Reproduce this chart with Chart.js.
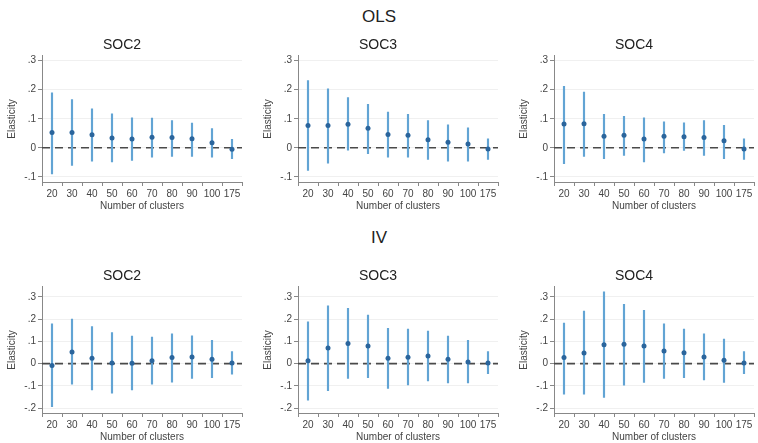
<!DOCTYPE html>
<html>
<head>
<meta charset="utf-8">
<script src="https://cdn.jsdelivr.net/npm/chart.js@4"></script>
<style>
  body { margin: 0; background: #fff; width: 758px; height: 443px; position: relative; overflow: hidden;
         font-family: "Liberation Sans", Arial, sans-serif; }
  .hd { position: absolute; left: 0; width: 758px; text-align: center; font-size: 17px; color: #222; }
  .pn { position: absolute; width: 246px; height: 176px; }
</style>
</head>
<body>
<div class="hd" style="top:7px">OLS</div>
<div class="hd" style="top:228px">IV</div>

<div class="pn" style="left:0;top:36px"><canvas id="ols2"></canvas></div>
<div class="pn" style="left:256px;top:36px"><canvas id="ols3"></canvas></div>
<div class="pn" style="left:512px;top:36px"><canvas id="ols4"></canvas></div>
<div class="pn" style="left:0;top:267px"><canvas id="iv2"></canvas></div>
<div class="pn" style="left:256px;top:267px"><canvas id="iv3"></canvas></div>
<div class="pn" style="left:512px;top:267px"><canvas id="iv4"></canvas></div>

<script>
const clusters = ['20', '30', '40', '50', '60', '70', '80', '90', '100', '175'];

// OLS estimates with 95% CI bounds
const olsSoc2Est = [0.053, 0.053, 0.045, 0.034, 0.030, 0.036, 0.035, 0.031, 0.017, -0.005];
const olsSoc2Lo  = [-0.090, -0.061, -0.046, -0.049, -0.044, -0.032, -0.030, -0.030, -0.032, -0.038];
const olsSoc2Hi  = [0.189, 0.166, 0.134, 0.117, 0.103, 0.102, 0.094, 0.085, 0.066, 0.029];

const olsSoc3Est = [0.077, 0.077, 0.081, 0.067, 0.046, 0.043, 0.028, 0.019, 0.013, -0.004];
const olsSoc3Lo  = [-0.078, -0.053, -0.008, -0.020, -0.032, -0.032, -0.040, -0.046, -0.046, -0.040];
const olsSoc3Hi  = [0.232, 0.203, 0.173, 0.150, 0.123, 0.115, 0.094, 0.079, 0.069, 0.031];

const olsSoc4Est = [0.082, 0.083, 0.040, 0.043, 0.030, 0.040, 0.038, 0.035, 0.024, -0.004];
const olsSoc4Lo  = [-0.055, -0.030, -0.038, -0.026, -0.049, -0.018, -0.009, -0.026, -0.038, -0.040];
const olsSoc4Hi  = [0.212, 0.192, 0.115, 0.108, 0.103, 0.089, 0.086, 0.094, 0.077, 0.031];

// IV estimates with 95% CI bounds
const ivSoc2Est = [-0.009, 0.052, 0.024, 0.003, 0.001, 0.013, 0.027, 0.030, 0.019, 0.003];
const ivSoc2Lo  = [-0.194, -0.093, -0.118, -0.133, -0.118, -0.093, -0.084, -0.067, -0.063, -0.048];
const ivSoc2Hi  = [0.179, 0.200, 0.166, 0.139, 0.124, 0.119, 0.134, 0.125, 0.104, 0.054];

const ivSoc3Est = [0.013, 0.070, 0.090, 0.079, 0.024, 0.028, 0.034, 0.019, 0.007, 0.003];
const ivSoc3Lo  = [-0.164, -0.122, -0.067, -0.063, -0.112, -0.096, -0.078, -0.087, -0.087, -0.045];
const ivSoc3Hi  = [0.188, 0.260, 0.248, 0.218, 0.158, 0.155, 0.146, 0.124, 0.104, 0.054];

const ivSoc4Est = [0.027, 0.048, 0.085, 0.087, 0.079, 0.057, 0.049, 0.030, 0.015, 0.003];
const ivSoc4Lo  = [-0.137, -0.137, -0.152, -0.097, -0.085, -0.067, -0.063, -0.073, -0.085, -0.045];
const ivSoc4Hi  = [0.182, 0.236, 0.322, 0.266, 0.239, 0.179, 0.155, 0.134, 0.110, 0.054];

const olsTicks = [-0.1, 0, 0.1, 0.2, 0.3];
const ivTicks  = [-0.2, -0.1, 0, 0.1, 0.2, 0.3];

// dashed reference line at zero across the whole plot
const zeroLine = {
  id: 'zeroLine',
  beforeDatasetsDraw(chart) {
    const { ctx, chartArea, scales } = chart;
    const y = scales.y.getPixelForValue(0);
    ctx.save();
    ctx.strokeStyle = '#4a4a4a';
    ctx.lineWidth = 1.6;
    ctx.setLineDash([8, 5]);
    ctx.beginPath();
    ctx.moveTo(chartArea.left, y);
    ctx.lineTo(chartArea.right, y);
    ctx.stroke();
    ctx.restore();
  }
};

function fmtTick(v) {
  if (Math.abs(v) < 1e-9) return '0';
  return (v < 0 ? '-' : '') + Math.abs(v).toFixed(1).replace(/^0/, '');
}

function makePanel(id, title, est, lo, hi, yMin, yMax, yTicks) {
  new Chart(document.getElementById(id), {
    data: {
      labels: clusters,
      datasets: [{
        type: 'line',
        data: est,
        showLine: false,
        pointRadius: 2.5,
        pointBorderWidth: 0,
        pointBackgroundColor: '#2b659c',
        order: 0
      }, {
        type: 'bar',
        data: lo.map((v, i) => [v, hi[i]]),
        backgroundColor: '#62a4d4',
        barThickness: 1.5,
        grouped: false,
        order: 1
      }]
    },
    options: {
      responsive: true,
      maintainAspectRatio: false,
      animation: false,
      devicePixelRatio: 1,
      layout: { padding: { left: 0, right: 2, top: 0, bottom: 0 } },
      plugins: {
        legend: { display: false },
        tooltip: { enabled: false },
        title: {
          display: true, text: title, color: '#222',
          font: { family: 'Liberation Sans', size: 14, weight: 'normal' },
          padding: { top: 1, bottom: 2 }
        }
      },
      scales: {
        x: {
          type: 'category',
          offset: true,
          grid: { drawOnChartArea: false, tickLength: 4, tickColor: '#888' },
          border: { color: '#888' },
          ticks: { color: '#444', font: { family: 'Liberation Sans', size: 10 }, maxRotation: 0, autoSkip: false, padding: 2 },
          title: { display: true, text: 'Number of clusters', color: '#444',
                   font: { family: 'Liberation Sans', size: 10 }, padding: { top: 0, bottom: 0 } },
          afterFit(scale) { scale.height = 30; }
        },
        y: {
          min: yMin, max: yMax,
          afterBuildTicks(scale) { scale.ticks = yTicks.map(v => ({ value: v })); },
          grid: { color: '#f0f0f0', tickLength: 4, tickColor: '#888' },
          border: { color: '#888' },
          ticks: { color: '#444', font: { family: 'Liberation Sans', size: 10 }, padding: 2, callback: fmtTick },
          title: { display: true, text: 'Elasticity', color: '#444',
                   font: { family: 'Liberation Sans', size: 10 }, padding: { top: 6, bottom: 0 } },
          afterFit(scale) { scale.width = 42; }
        }
      }
    },
    plugins: [zeroLine]
  });
}

makePanel('ols2', 'SOC2', olsSoc2Est, olsSoc2Lo, olsSoc2Hi, -0.118, 0.317, olsTicks);
makePanel('ols3', 'SOC3', olsSoc3Est, olsSoc3Lo, olsSoc3Hi, -0.118, 0.317, olsTicks);
makePanel('ols4', 'SOC4', olsSoc4Est, olsSoc4Lo, olsSoc4Hi, -0.118, 0.317, olsTicks);
makePanel('iv2', 'SOC2', ivSoc2Est, ivSoc2Lo, ivSoc2Hi, -0.222, 0.345, ivTicks);
makePanel('iv3', 'SOC3', ivSoc3Est, ivSoc3Lo, ivSoc3Hi, -0.222, 0.345, ivTicks);
makePanel('iv4', 'SOC4', ivSoc4Est, ivSoc4Lo, ivSoc4Hi, -0.222, 0.345, ivTicks);
</script>
</body>
</html>
